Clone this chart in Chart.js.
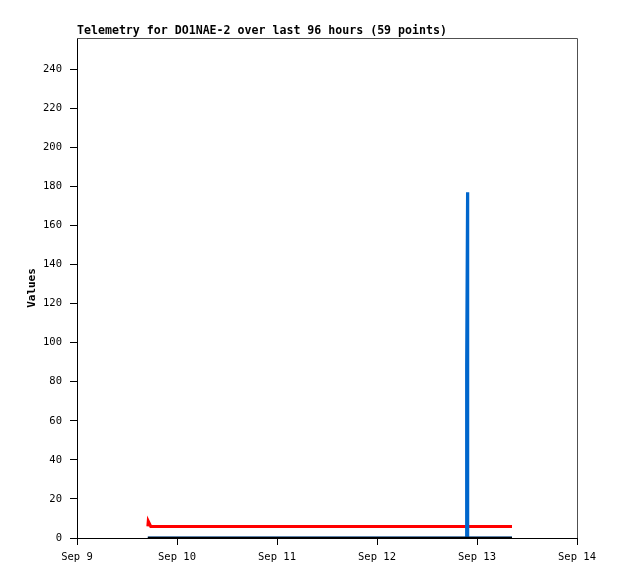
<!DOCTYPE html>
<html>
<head>
<meta charset="utf-8">
<title>Telemetry DO1NAE-2</title>
<script src="https://cdn.jsdelivr.net/npm/chart.js@4/dist/chart.umd.min.js"></script>
<style>
  html, body { margin: 0; padding: 0; background: #ffffff; }
  canvas { display: block; }
</style>
</head>
<body>
<canvas id="Chart" width="618" height="579"></canvas>
<script>
// hours since Sep 9 00:00
const hours = [
  17.0, 17.1, 17.7, 19.2, 20.6, 22.1, 23.5, 25.0, 26.6, 28.1,
  29.5, 31.0, 32.4, 34.0, 35.5, 37.0, 38.4, 39.9, 41.5, 43.0,
  44.4, 45.9, 47.4, 48.9, 50.3, 51.8, 53.3, 54.8, 56.2, 57.7,
  59.2, 60.7, 62.2, 63.6, 65.1, 66.6, 68.1, 69.5, 71.0, 72.5,
  74.0, 75.4, 76.9, 78.4, 79.9, 81.3, 82.8, 84.3, 85.8, 87.2,
  88.7, 90.2, 93.45, 93.5, 93.72, 93.78, 96.5, 100.4, 104.4
];

const redValues = [
  5.9, 8.6, 5.9, 5.9, 5.9, 5.9, 5.9, 5.9, 5.9, 5.9,
  5.9, 5.9, 5.9, 5.9, 5.9, 5.9, 5.9, 5.9, 5.9, 5.9,
  5.9, 5.9, 5.9, 5.9, 5.9, 5.9, 5.9, 5.9, 5.9, 5.9,
  5.9, 5.9, 5.9, 5.9, 5.9, 5.9, 5.9, 5.9, 5.9, 5.9,
  5.9, 5.9, 5.9, 5.9, 5.9, 5.9, 5.9, 5.9, 5.9, 5.9,
  5.9, 5.9, 5.9, 5.9, 5.9, 5.9, 5.9, 5.9, 5.9
];

const blueValues = [
  0, 0, 0, 0, 0, 0, 0, 0, 0, 0,
  0, 0, 0, 0, 0, 0, 0, 0, 0, 0,
  0, 0, 0, 0, 0, 0, 0, 0, 0, 0,
  0, 0, 0, 0, 0, 0, 0, 0, 0, 0,
  0, 0, 0, 0, 0, 0, 0, 0, 0, 0,
  0, 0, 0, 88, 177, 0, 0, 0, 0
];

const blackValues = [
  0, 0, 0, 0, 0, 0, 0, 0, 0, 0,
  0, 0, 0, 0, 0, 0, 0, 0, 0, 0,
  0, 0, 0, 0, 0, 0, 0, 0, 0, 0,
  0, 0, 0, 0, 0, 0, 0, 0, 0, 0,
  0, 0, 0, 0, 0, 0, 0, 0, 0, 0,
  0, 0, 0, 0, 0, 0, 0, 0, 0
];

const dayLabels = ["Sep 9", "Sep 10", "Sep 11", "Sep 12", "Sep 13", "Sep 14"];
const titleText = "Telemetry for DO1NAE-2 over last 96 hours (59 points)";
const yTitle = "Values";

const toPoints = (vals) => vals.map((v, i) => ({ x: hours[i], y: v }));

const FONT = "'DejaVu Sans Mono', 'Liberation Mono', monospace";

const frameAndText = {
  id: "frameAndText",
  afterDraw(chart) {
    const { ctx, chartArea } = chart;
    ctx.save();
    // gray top/right border
    ctx.strokeStyle = "#505050";
    ctx.lineWidth = 1;
    ctx.beginPath();
    ctx.moveTo(chartArea.left, chartArea.top + 0.5);
    ctx.lineTo(chartArea.right + 0.5, chartArea.top + 0.5);
    ctx.lineTo(chartArea.right + 0.5, chartArea.bottom);
    ctx.stroke();

    ctx.fillStyle = "#000000";
    ctx.font = "bold 11.6px " + FONT;
    ctx.textAlign = "left";
    ctx.textBaseline = "alphabetic";
    ctx.fillText(titleText, chartArea.left, 34);

    ctx.font = "bold 11px " + FONT;
    ctx.translate(32, (chartArea.top + chartArea.bottom) / 2);
    ctx.rotate(-Math.PI / 2);
    ctx.textAlign = "center";
    ctx.textBaseline = "middle";
    ctx.fillText(yTitle, 0, 0);
    ctx.restore();
  },
};

new Chart(document.getElementById("Chart"), {
  type: "line",
  data: {
    datasets: [
      {
        label: "black",
        data: toPoints(blackValues),
        borderColor: "#000000",
        borderWidth: 2.5,
        order: 0,
      },
      {
        label: "blue",
        data: toPoints(blueValues),
        borderColor: "#0066cc",
        borderWidth: 3,
        order: 1,
      },
      {
        label: "red",
        data: toPoints(redValues),
        borderColor: "#ff0000",
        borderWidth: 3,
        order: 2,
      },
    ],
  },
  options: {
    responsive: false,
    animation: false,
    layout: {
      padding: { top: 38, right: 41, bottom: 0, left: 0 },
    },
    elements: {
      point: { radius: 0 },
      line: { tension: 0, borderJoinStyle: "miter" },
    },
    plugins: {
      legend: { display: false },
      title: { display: false },
      tooltip: { enabled: false },
    },
    scales: {
      x: {
        type: "linear",
        min: 0,
        max: 120,
        afterFit: (scale) => { scale.height = 41; },
        ticks: {
          stepSize: 24,
          color: "#000000",
          padding: 6,
          maxRotation: 0,
          font: { family: FONT, size: 10.5 },
          callback: (value, index) => dayLabels[index],
        },
        grid: {
          drawOnChartArea: false,
          drawTicks: true,
          tickLength: 7,
          color: "#000000",
        },
        border: { display: true, color: "#000000", width: 1 },
      },
      y: {
        min: 0,
        max: 256,
        afterFit: (scale) => { scale.width = 77; },
        ticks: {
          stepSize: 20,
          includeBounds: false,
          color: "#000000",
          padding: 8,
          font: { family: FONT, size: 10.5 },
        },
        grid: {
          drawOnChartArea: false,
          drawTicks: true,
          tickLength: 7,
          color: "#000000",
        },
        border: { display: true, color: "#000000", width: 1 },
      },
    },
  },
  plugins: [frameAndText],
});
</script>
</body>
</html>
